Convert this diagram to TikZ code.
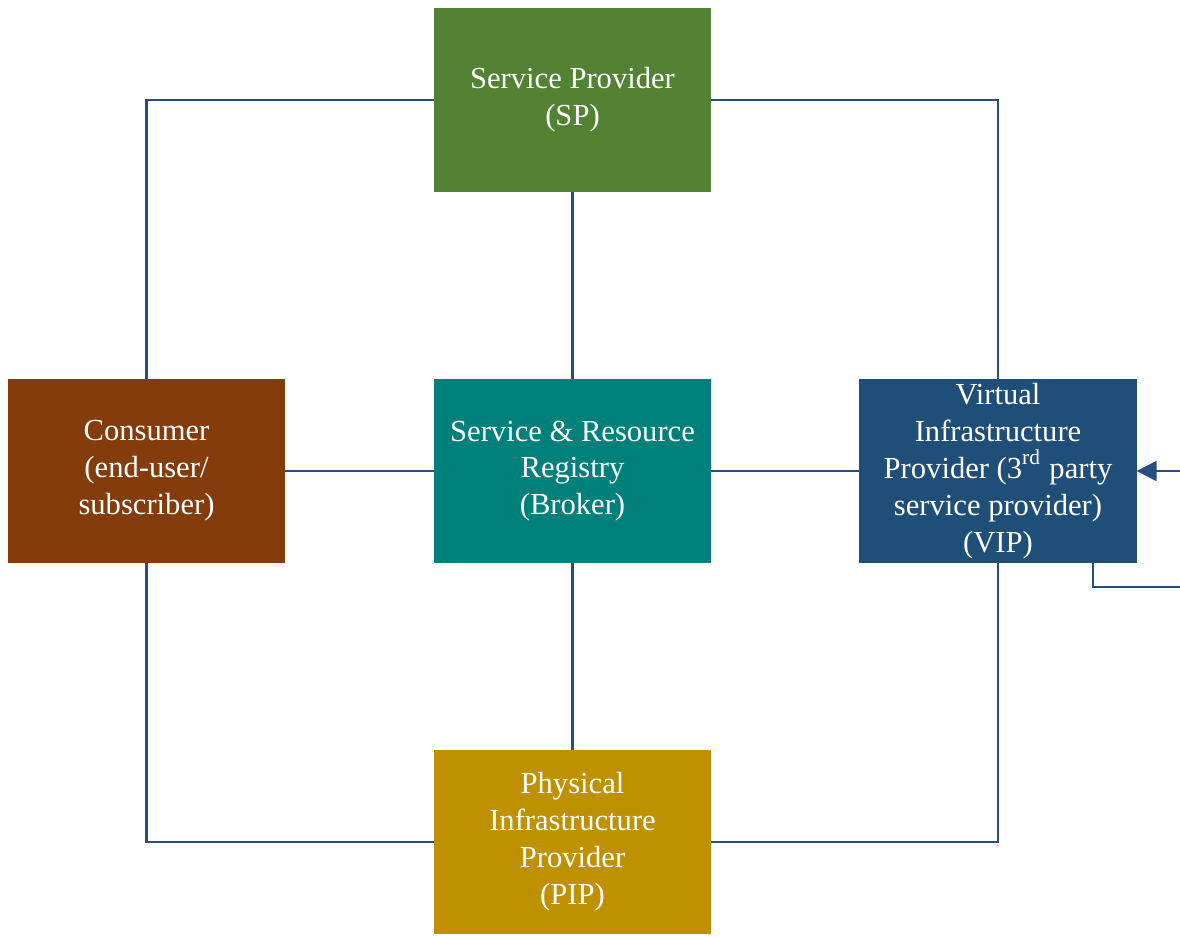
\documentclass[tikz,border=0pt]{standalone}
\usepackage{fontspec}
\setmainfont{Liberation Serif}
\usetikzlibrary{arrows.meta}

\begin{document}
\begin{tikzpicture}[x=0.01cm, y=-0.01cm,
    actor/.style={minimum width=2.77cm, minimum height=1.84cm, inner sep=0pt, outer sep=0pt,
        text=white, align=center, font=\fontsize{8.7}{10.5}\selectfont},
    link/.style={draw=linkcolor, line width=0.6pt}]
    % Define colors
    \definecolor{linkcolor}{RGB}{40,78,130}
    \definecolor{spcolor}{RGB}{84,130,53}
    \definecolor{consumercolor}{RGB}{132,60,12}
    \definecolor{brokercolor}{RGB}{0,128,122}
    \definecolor{vipcolor}{RGB}{31,78,121}
    \definecolor{pipcolor}{RGB}{191,144,0}

    \useasboundingbox (0,0) rectangle (1180,936);

    % Boxes
    \node[actor, fill=spcolor] (sp) at (572.5,100) {Service Provider\\(SP)};
    \node[actor, fill=consumercolor] (consumer) at (146.5,471) {Consumer\\(end-user/\\subscriber)};
    \node[actor, fill=brokercolor] (broker) at (572.5,471) {Service \& Resource\\Registry\\(Broker)};
    \node[actor, fill=vipcolor] (vip) at (998,471) {Virtual\\Infrastructure\\Provider (3\textsuperscript{rd} party\\service provider)\\(VIP)};
    \node[actor, fill=pipcolor] (pip) at (572.5,842) {Physical\\Infrastructure\\Provider\\(PIP)};

    % Ring round the registry
    \draw[link] (sp.west) -| (consumer.north);
    \draw[link] (sp.east) -| (vip.north);
    \draw[link] (pip.west) -| (consumer.south);
    \draw[link] (pip.east) -| (vip.south);

    % Spokes to the registry
    \draw[link] (sp.south) -- (broker.north);
    \draw[link] (pip.north) -- (broker.south);
    \draw[link] (consumer.east) -- (broker.west);
    \draw[link] (vip.west) -- (broker.east);

    % Loop back into VIP
    \coordinate (loopout) at (1180,587);
    \coordinate (loopin) at (1180,471);
    \draw[link] ([xshift=-0.44cm]vip.south east) |- (loopout);
    \draw[link, -{Triangle[length=0.2cm, width=0.2cm]}, fill=linkcolor] (loopin) -- (vip.east);

\end{tikzpicture}
\end{document}
